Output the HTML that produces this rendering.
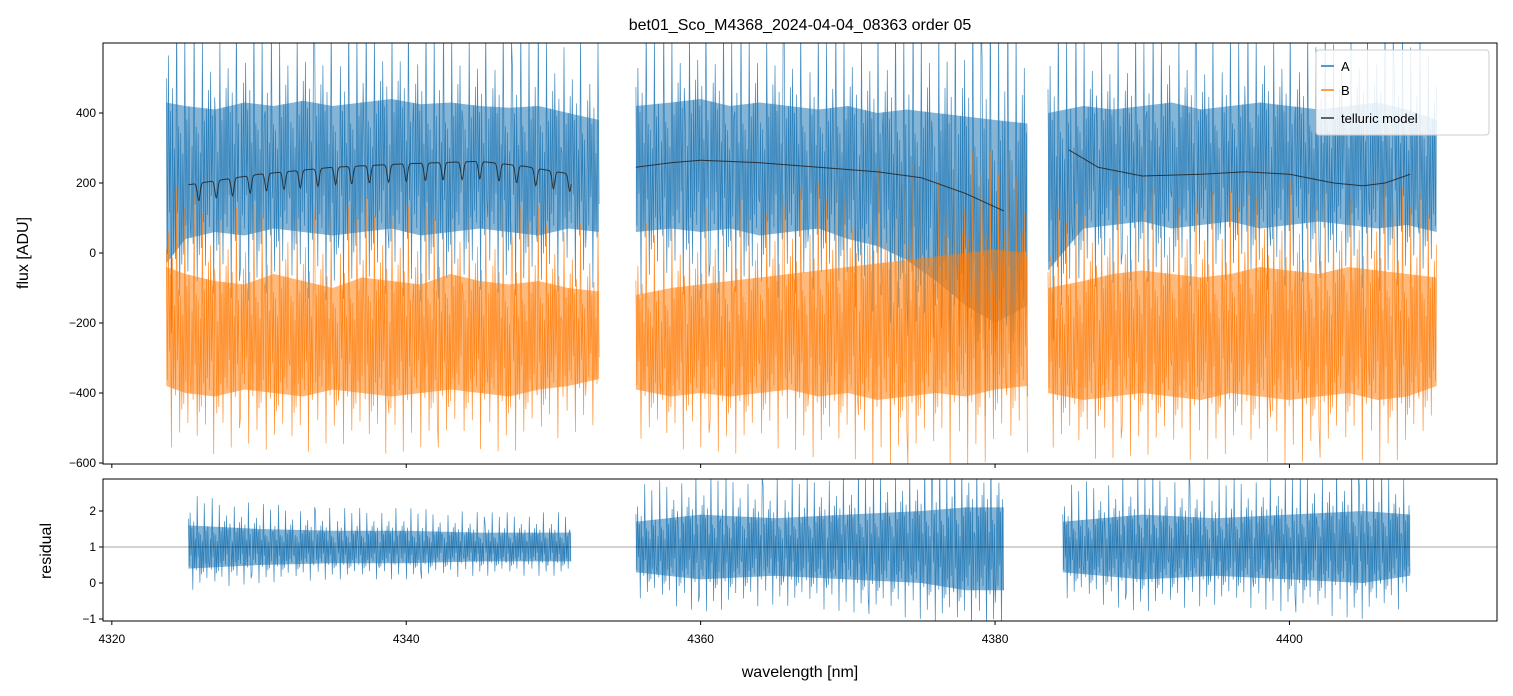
<!DOCTYPE html>
<html><head><meta charset="utf-8"><style>
body{margin:0;background:#fff;}
svg{display:block;font-family:"Liberation Sans","DejaVu Sans",sans-serif;}
</style></head><body>
<svg id="c" width="1513" height="696" viewBox="0 0 1513 696"></svg>
<script>
// ---- data ----
const segA1x=[4323.7,4325,4327,4329,4331,4333,4335,4337,4339,4341,4343,4345,4347,4349,4351,4353.1];
const segA1hi=[430,420,410,430,420,435,420,430,440,425,430,420,415,420,400,380];
const segA1lo=[-30,40,60,50,70,60,50,60,70,50,60,70,60,50,70,60];
const segA2x=[4355.6,4358,4360,4362,4364,4366,4368,4370,4372,4374,4376,4378,4380,4382.2];
const segA2hi=[420,430,440,420,430,420,410,420,400,410,400,390,380,370];
const segA2lo=[60,70,60,70,50,60,70,40,20,-20,-80,-150,-200,-150];
const segA3x=[4383.6,4386,4388,4390,4392,4394,4396,4398,4400,4402,4404,4406,4408,4410];
const segA3hi=[400,420,410,420,430,410,420,430,420,410,420,430,410,380];
const segA3lo=[-50,70,80,90,70,80,90,70,80,90,80,70,80,60];
const segB1hi=[-40,-60,-80,-90,-60,-80,-100,-70,-80,-90,-60,-80,-90,-80,-100,-110];
const segB1lo=[-380,-400,-410,-390,-400,-410,-390,-400,-410,-400,-390,-400,-410,-390,-380,-360];
const segB2hi=[-120,-100,-90,-80,-70,-60,-50,-40,-30,-20,-10,0,10,0];
const segB2lo=[-390,-410,-400,-410,-400,-390,-410,-400,-420,-410,-400,-410,-390,-380];
const segB3hi=[-100,-80,-60,-50,-60,-70,-60,-40,-50,-60,-40,-50,-60,-70];
const segB3lo=[-400,-420,-410,-400,-410,-420,-400,-410,-420,-410,-400,-420,-410,-380];
const tellX1=[4325.2,4330,4335,4340,4345,4348,4351.2];
const tellY1=[195,225,245,255,262,248,225];
const tellDips=[4325.9,4327.1,4328.2,4329.4,4330.5,4331.7,4332.8,4334.0,4335.2,4336.3,4337.5,4338.8,4340.0,4341.3,4342.5,4343.8,4345.0,4346.3,4347.5,4348.8,4350.0,4351.1];
const tellX2=[4355.6,4358,4360,4364,4368,4372,4375,4378,4380.6];
const tellY2=[245,258,265,258,245,232,215,170,120];
const tellX3=[4385,4387,4390,4394,4397,4400,4403,4405,4406.5,4408.2];
const tellY3=[295,245,220,225,232,225,200,192,200,225];
const resX1=[4325.2,4330,4335,4340,4345,4351.2];
const resHi1=[1.6,1.5,1.45,1.45,1.4,1.4];
const resLo1=[0.4,0.5,0.55,0.55,0.6,0.6];
const resX2=[4355.6,4360,4365,4370,4375,4378,4380.6];
const resHi2=[1.7,1.9,1.8,1.9,2.0,2.1,2.1];
const resLo2=[0.3,0.1,0.2,0.1,0.0,-0.2,-0.2];
const resX3=[4384.6,4390,4395,4400,4405,4408.2];
const resHi3=[1.7,1.9,1.8,1.9,2.0,1.9];
const resLo3=[0.3,0.1,0.2,0.1,0.0,0.2];
const xTicks=[4320,4340,4360,4380,4400];
const yTicks=[400,200,0,-200,-400,-600];
const rTicks=[2,1,0,-1];

// ---- axes ----
const L=103,R=1497,T1=43,B1=464,T2=479,B2=621;
const sx=v=>L+(v-4319.4)*(R-L)/(4414.1-4319.4);
const sy=v=>253-(v)*0.35;
const sr=v=>547-(v-1)*36;
const svg=document.getElementById('c');
const NS='http://www.w3.org/2000/svg';
function mk(tag,attrs,name,parent){const e=document.createElementNS(NS,tag);for(const k in attrs)e.setAttribute(k,attrs[k]);


(parent||svg).appendChild(e);return e;}
function interp(xs,ys,x){for(let i=0;i<xs.length-1;i++){if(x<=xs[i+1]){const t=(x-xs[i])/(xs[i+1]-xs[i]);return ys[i]+t*(ys[i+1]-ys[i]);}}return ys[ys.length-1];}

const clip=mk('clipPath',{id:'cp1'},'clip-main');mk('rect',{x:L,y:T1,width:R-L,height:B1-T1},'clip-rect',clip);
const clip2=mk('clipPath',{id:'cp2'},'clip-res');mk('rect',{x:L,y:T2,width:R-L,height:B2-T2},'clip-rect2',clip2);
const gM=mk('g',{'clip-path':'url(#cp1)'},'main-plot');
const gR=mk('g',{'clip-path':'url(#cp2)'},'residual-plot');

const F=[1.3,-1.0,0.6,-1.5,0.9,-0.5,2.1,-0.9,0.4,-1.3,1.0,-2.0,0.7,-0.8,1.6,-1.1,0.3,-0.7,1.2,-1.7,0.8,-0.4,2.4,-1.2];
function band(g,xs,hi,lo,syf,color,name,step){
  let pts=[];xs.forEach((x,i)=>pts.push(sx(x)+','+syf(hi[i])));
  for(let i=xs.length-1;i>=0;i--)pts.push(sx(xs[i])+','+syf(lo[i]));
  mk('polygon',{points:pts.join(' '),fill:color,'fill-opacity':0.55},name+'-band',g);
  let z=[],k=0;
  for(let x=xs[0];x<=xs[xs.length-1];x+=step,k++){
    const h=interp(xs,hi,x),l=interp(xs,lo,x),m=(h+l)/2,a=(h-l)/2;
    const f=F[(k*7+Math.floor(k/24))%24];
    z.push(sx(x).toFixed(1)+','+syf(m+a*f).toFixed(1));
  }
  mk('polyline',{points:z.join(' '),fill:'none',stroke:color,'stroke-width':0.7,'stroke-opacity':0.85},name+'-line',g);
}
band(gM,segA1x,segA1hi,segA1lo,sy,'#1f77b4','series-a-seg1',0.07);
band(gM,segA2x,segA2hi,segA2lo,sy,'#1f77b4','series-a-seg2',0.07);
band(gM,segA3x,segA3hi,segA3lo,sy,'#1f77b4','series-a-seg3',0.07);
band(gM,segA1x,segB1hi,segB1lo,sy,'#ff7f0e','series-b-seg1',0.07);
band(gM,segA2x,segB2hi,segB2lo,sy,'#ff7f0e','series-b-seg2',0.07);
band(gM,segA3x,segB3hi,segB3lo,sy,'#ff7f0e','series-b-seg3',0.07);

function tell(xs,ys,dips,name){
  let p=[];
  for(let x=xs[0];x<=xs[xs.length-1]+1e-9;x+=0.04){
    let y=interp(xs,ys,x);
    dips.forEach(d=>{y-=50*Math.exp(-Math.pow((x-d)/0.13,2));});
    p.push(sx(x)+','+sy(y));
  }
  mk('polyline',{points:p.join(' '),fill:'none',stroke:'#222','stroke-width':1,'stroke-opacity':0.85},name,gM);
}
tell(tellX1,tellY1,tellDips,'telluric-seg1');
tell(tellX2,tellY2,[],'telluric-seg2');
tell(tellX3,tellY3,[],'telluric-seg3');

band(gR,resX1,resHi1,resLo1,sr,'#1f77b4','residual-seg1',0.06);
band(gR,resX2,resHi2,resLo2,sr,'#1f77b4','residual-seg2',0.06);
band(gR,resX3,resHi3,resLo3,sr,'#1f77b4','residual-seg3',0.06);
mk('line',{x1:L,x2:R,y1:sr(1),y2:sr(1),stroke:'#000','stroke-width':0.6,'stroke-opacity':0.7},'residual-reference-line',gR);

mk('rect',{x:L,y:T1,width:R-L,height:B1-T1,fill:'none',stroke:'#000','stroke-width':1},'main-axes-frame');
mk('rect',{x:L,y:T2,width:R-L,height:B2-T2,fill:'none',stroke:'#000','stroke-width':1},'residual-axes-frame');

function txt(x,y,s,size,anchor,name,rot){const e=mk('text',{x:x,y:y,'font-size':size,'text-anchor':anchor||'middle',fill:'#000'},name);if(rot)e.setAttribute('transform',`rotate(-90 ${x} ${y})`);e.textContent=s;return e;}
xTicks.forEach(v=>{
  mk('line',{x1:sx(v),x2:sx(v),y1:B1,y2:B1+4,stroke:'#000'},'x-tick-main');
  mk('line',{x1:sx(v),x2:sx(v),y1:B2,y2:B2+4,stroke:'#000'},'x-tick');
  txt(sx(v),B2+22,v,12,'middle','x-tick-label');
});
yTicks.forEach(v=>{mk('line',{x1:L-4,x2:L,y1:sy(v),y2:sy(v),stroke:'#000'},'y-tick');
  txt(L-7,sy(v)+4,v<0?'\u2212'+(-v):v,12,'end','y-tick-label');});
rTicks.forEach(v=>{mk('line',{x1:L-4,x2:L,y1:sr(v),y2:sr(v),stroke:'#000'},'residual-y-tick');
  txt(L-7,sr(v)+4,v<0?'\u2212'+(-v):v,12,'end','residual-y-tick-label');});
txt(800,30,'bet01_Sco_M4368_2024-04-04_08363  order 05',16,'middle','chart-title');
txt(800,677,'wavelength [nm]',16,'middle','x-axis-title');
txt(28,253,'flux [ADU]',16,'middle','y-axis-title',true);
txt(51,551,'residual',16,'middle','residual-axis-title',true);

const lg=mk('g',{},'legend');
mk('rect',{x:1316,y:50,width:173,height:85,rx:3,fill:'#fff','fill-opacity':0.85,stroke:'#ccc'},'legend-box',lg);
[['A','#1f77b4',66],['B','#ff7f0e',90],['telluric model','#333',118]].forEach(([n,c,y])=>{
  mk('line',{x1:1321,x2:1334,y1:y,y2:y,stroke:c,'stroke-width':1.5},'legend-swatch',lg);
  const t=mk('text',{x:1341,y:y+5,'font-size':13,fill:'#000'},'legend-entry',lg);t.textContent=n;
});
</script>
</body></html>
